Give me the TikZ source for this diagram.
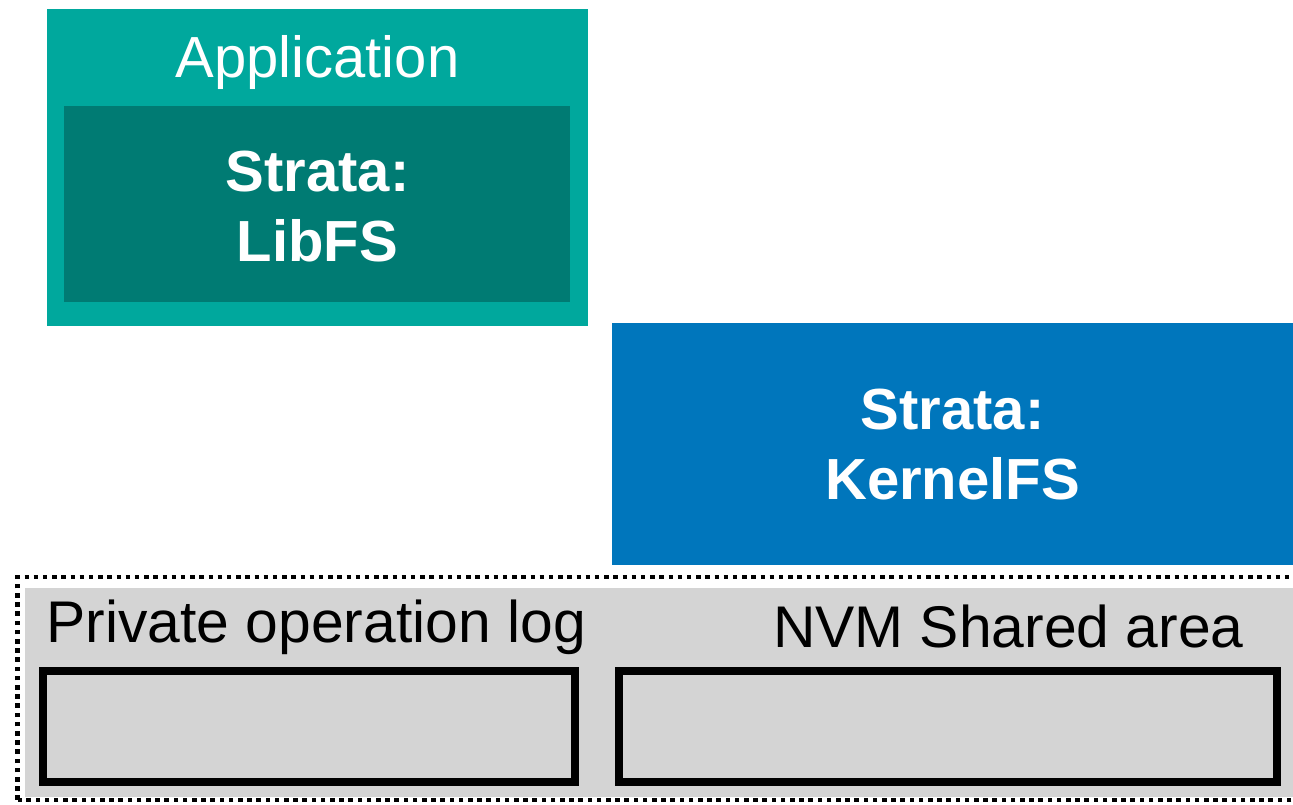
\documentclass[tikz,border=0pt]{standalone}
\usepackage{fontspec}
\setmainfont{Liberation Sans}
\definecolor{appteal}{RGB}{0,168,157}
\definecolor{libteal}{RGB}{0,123,115}
\definecolor{kernblue}{RGB}{0,118,188}
\definecolor{nvmgray}{RGB}{212,212,212}
\tikzset{
  every node/.style={inner sep=0pt, outer sep=0pt},
  big/.style={font=\fontsize{58}{70}\selectfont},
  biglog/.style={font=\fontsize{58.8}{70}\selectfont},
  whitebold/.style={text=white, font=\fontsize{58}{70}\selectfont\bfseries, anchor=base},
  logbox/.style={draw=black, line width=7.5pt, fill=nvmgray},
}
\begin{document}
\begin{tikzpicture}[x=1pt,y=1pt]
  \useasboundingbox (0,0) rectangle (1293,805);
  \clip (0,0) rectangle (1293,805);

  % application with its library file system
  \fill[appteal] (47,479) rectangle (588,796);
  \node[big, text=white, anchor=base] (app) at (317.5,727) {Application};
  \fill[libteal] (64,503) rectangle (570,699);
  \node[whitebold] (libA) at (317.5,613) {Strata:};
  \node[whitebold] (libB) at (317.5,543) {LibFS};

  % kernel file system
  \fill[kernblue] (612,240) rectangle (1300,482);
  \node[whitebold] (kernA) at (952.5,375) {Strata:};
  \node[whitebold] (kernB) at (952.5,305) {KernelFS};

  % NVM region
  \fill[nvmgray] (25,8) rectangle (1300,217);
  \draw[line width=4.5pt, dash pattern=on 4.5pt off 4.7pt] (17.5,5) rectangle (1310,228);
  \node[biglog, anchor=base west] (privlabel) at (46.5,162) {Private operation log};
  \node[biglog, anchor=base west] (sharedlabel) at (773,157) {NVM Shared area};
  \node[logbox, minimum width=532pt, minimum height=111pt, anchor=south west] (privlog) at (43,23) {};
  \node[logbox, minimum width=658pt, minimum height=111pt, anchor=south west] (shared) at (619,23) {};
\end{tikzpicture}
\end{document}
